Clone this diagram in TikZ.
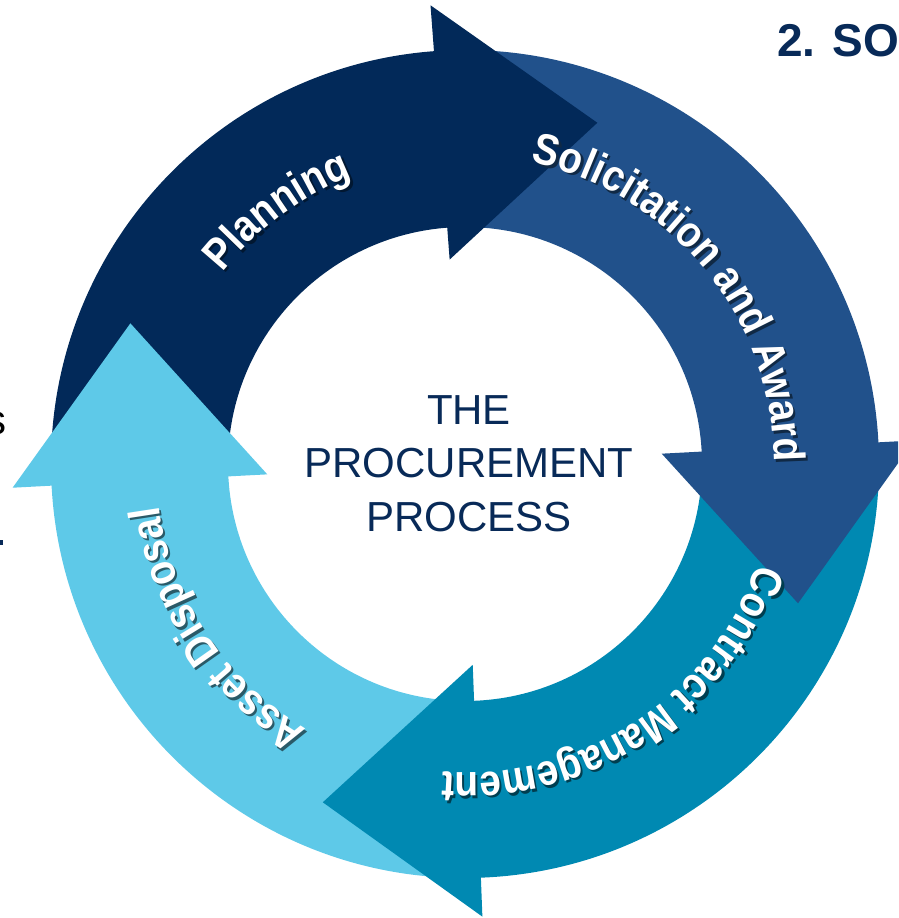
\documentclass[tikz,border=0pt]{standalone}
\usepackage{fontspec}
\setmainfont{Liberation Sans}
\newfontfamily\arcfont{Liberation Sans}[FakeStretch=0.88]
\usetikzlibrary{decorations.text}
\definecolor{cplan}{RGB}{2,41,89}
\definecolor{csol}{RGB}{33,81,139}
\definecolor{ccon}{RGB}{0,137,178}
\definecolor{cass}{RGB}{94,201,232}
\definecolor{navytext}{RGB}{8,42,88}
\newcommand\arcfmt{\arcfont\bfseries\fontsize{44}{44}\selectfont}
% ring body: colour, start angle, end angle (clockwise)
\newcommand\ringbody[3]{%
  \fill[#1] (#2:414) arc[start angle=#2, end angle=#3, radius=414]
    -- (#3:237) arc[start angle=#3, end angle=#2, radius=237] -- cycle;}
% arrow head: colour, base angle, inner r, outer r, tip angle, tip r
\newcommand\ringhead[6]{%
  \fill[#1] (#2:#3) -- (#2:#4) -- (#5:#6) -- cycle;}
% label along the ring: text, centre angle, shadow colour
\newcommand\arclabel[3]{%
  \pgfmathsetmacro\aStart{#2+45}%
  \pgfmathsetmacro\aEnd{#2-45}%
  \path[decorate, shift={(2.2,-2.4)}, decoration={text along path, text align=center,
      text color=#3, text={|\arcfmt|#1}}]
    (\aStart:309) arc[start angle=\aStart, end angle=\aEnd, radius=309];
  \path[decorate, decoration={text along path, text align=center,
      text color=white, text={|\arcfmt|#1}}]
    (\aStart:309) arc[start angle=\aStart, end angle=\aEnd, radius=309];}
\begin{document}
\begin{tikzpicture}[x=1pt,y=1pt]
\useasboundingbox (0,0) rectangle (898,918);
\clip (0,0) rectangle (898,918);
\fill[white] (0,0) rectangle (898,918);
\begin{scope}[shift={(465,454)}]
  % bodies
  \ringbody{cplan}{180}{93.5}
  \ringbody{csol}{91.3}{2.2}
  \ringbody{ccon}{0}{-88.6}
  \ringbody{cass}{-90.8}{-177.8}
  % heads
  \ringhead{cplan}{94.3}{205}{460}{68.8}{366}
  \ringhead{csol}{3.0}{197}{450}{-22.7}{361}
  \ringhead{ccon}{-87.8}{201}{453}{-112.8}{367}
  \ringhead{cass}{-177}{198}{453}{-202.8}{363}
  % labels
  \arclabel{Planning}{126.5}{cplan!55!black}
  \arclabel{Solicitation and Award}{39}{csol!50!black}
  \arclabel{Contract Management}{-56.5}{ccon!45!black}
  \arclabel{Asset Disposal}{213.5}{cass!45!black}
\end{scope}
\node[inner sep=0, align=center, text=navytext, font=\fontsize{42}{53.5}\selectfont]
  (centre) at (469,454.5) {THE\\PROCUREMENT\\PROCESS};
\node[inner sep=0, anchor=base west, text=navytext, font=\bfseries\fontsize{46}{46}\selectfont]
  (heading) at (777,861) {2. SO};
\node[inner sep=0, anchor=base east, text=black, font=\fontsize{42}{42}\selectfont]
  (fragment) at (7,483) {s};
\fill[navytext] (0,372.5) rectangle (3,378);
\end{tikzpicture}
\end{document}
